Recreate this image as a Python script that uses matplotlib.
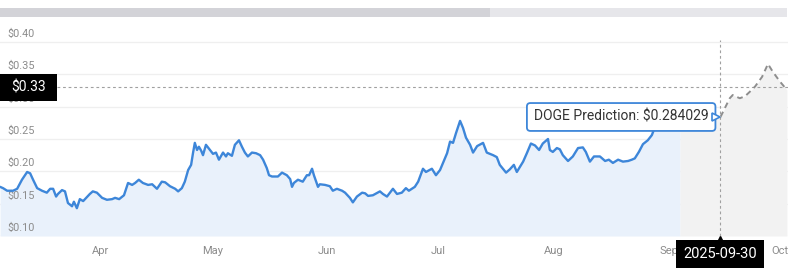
import datetime as dt
import matplotlib
matplotlib.use("Agg")
import matplotlib.pyplot as plt
from matplotlib.patches import Rectangle
from matplotlib.transforms import blended_transform_factory, offset_copy

plt.rcParams['font.family'] = ['Roboto', 'DejaVu Sans']

# ---------------- data ----------------
start_date = dt.date(2025, 3, 20)          # day 0 of the series

hist_day = [
    -0.2, 0.6, 1.7, 3.3, 4.4, 5.7, 7.1, 7.9, 8.7, 9.8,
    11.1, 12.4, 13.3, 14.1, 14.9, 15.4, 16.5, 17.3, 18.1, 19.2,
    19.7, 20.5, 21.3, 22.2, 23.0, 24.0, 24.8, 25.9, 27.3, 28.6,
    30.0, 30.8, 31.9, 33.2, 34.3, 35.4, 36.2, 37.2, 38.3, 39.7,
    40.8, 42.1, 43.4, 44.3, 45.6, 47.0, 47.8, 48.8, 49.6, 50.5,
    51.3, 51.8, 52.3, 52.9, 53.4, 54.0, 54.5, 55.3, 56.4, 57.2,
    58.0, 58.8, 59.9, 60.7, 61.2, 62.3, 63.1, 64.2, 65.0, 65.8,
    66.6, 67.7, 68.8, 69.9, 70.7, 71.7, 72.3, 73.1, 74.7, 75.8,
    77.1, 78.0, 78.5, 79.0, 80.1, 81.4, 82.5, 83.1, 83.9, 84.4,
    85.5, 86.0, 87.4, 88.7, 89.5, 90.6, 92.0, 92.8, 94.1, 94.9,
    96.0, 97.4, 98.2, 99.0, 100.3, 102.2, 103.0, 104.1, 105.7, 106.8,
    108.1, 109.2, 110.0, 111.6, 112.5, 113.8, 114.6, 116.2, 117.3, 118.4,
    119.2, 120.3, 121.1, 121.9, 122.7, 123.8, 124.6, 125.4, 126.5, 127.3,
    128.4, 130.0, 131.0, 132.7, 133.7, 134.5, 136.2, 137.2, 138.3, 139.1,
    140.8, 141.8, 142.9, 144.0, 145.1, 146.1, 147.5, 148.0, 148.8, 149.9,
    150.7, 151.5, 152.9, 154.2, 155.6, 156.9, 157.7, 158.8, 159.9, 161.5,
    162.9, 163.9, 165.0, 166.4, 167.7, 169.1, 170.1, 170.9, 172.0, 173.1,
    174.4, 175.5, 176.1, 177.7, 179.8, 181.7, 183.1,
]
hist_price = [
    0.176, 0.174, 0.170, 0.170, 0.173, 0.187, 0.199, 0.197, 0.187, 0.174,
    0.170, 0.167, 0.173, 0.173, 0.161, 0.165, 0.171, 0.169, 0.151, 0.146,
    0.153, 0.143, 0.157, 0.154, 0.159, 0.165, 0.169, 0.167, 0.159, 0.156,
    0.157, 0.159, 0.157, 0.163, 0.182, 0.179, 0.182, 0.187, 0.182, 0.179,
    0.180, 0.173, 0.184, 0.183, 0.177, 0.173, 0.169, 0.174, 0.184, 0.202,
    0.210, 0.228, 0.244, 0.233, 0.238, 0.232, 0.225, 0.241, 0.233, 0.227,
    0.229, 0.218, 0.229, 0.223, 0.228, 0.224, 0.241, 0.248, 0.238, 0.229,
    0.223, 0.229, 0.228, 0.225, 0.218, 0.205, 0.194, 0.192, 0.192, 0.198,
    0.194, 0.188, 0.176, 0.182, 0.187, 0.184, 0.194, 0.194, 0.204, 0.194,
    0.176, 0.180, 0.179, 0.177, 0.170, 0.173, 0.170, 0.167, 0.159, 0.152,
    0.161, 0.167, 0.166, 0.162, 0.163, 0.169, 0.165, 0.161, 0.173, 0.165,
    0.167, 0.174, 0.170, 0.176, 0.184, 0.204, 0.199, 0.204, 0.194, 0.202,
    0.213, 0.228, 0.246, 0.244, 0.259, 0.278, 0.267, 0.252, 0.241, 0.229,
    0.239, 0.244, 0.229, 0.225, 0.222, 0.210, 0.198, 0.203, 0.210, 0.199,
    0.215, 0.228, 0.243, 0.240, 0.233, 0.243, 0.250, 0.233, 0.230, 0.236,
    0.234, 0.225, 0.216, 0.223, 0.236, 0.237, 0.230, 0.215, 0.223, 0.223,
    0.216, 0.218, 0.213, 0.218, 0.215, 0.216, 0.218, 0.220, 0.230, 0.242,
    0.248, 0.256, 0.265, 0.272, 0.277, 0.280, 0.282,
]

pred_day = [183.1, 188.5, 194.0, 195.2, 196.5, 197.3, 199.2, 200.6,
            201.9, 203.3, 205.2, 206.8, 208.1, 210.0, 211.9]
pred_price = [0.282, 0.283, 0.284029, 0.298, 0.313, 0.318, 0.313, 0.316,
              0.323, 0.331, 0.346, 0.366, 0.354, 0.339, 0.326]

pred_date = dt.date(2025, 9, 30)
pred_value = 0.284029
pred_label = "DOGE Prediction: \\$0.284029"
cursor_price = 0.33
cursor_label = "\\$0.33"

y_ticks = [0.10, 0.15, 0.20, 0.25, 0.30, 0.35, 0.40]
month_labels = ["Apr", "May", "Jun", "Jul", "Aug", "Sep", "Oct"]
month_label_dates = [dt.date(2025, m, 16) for m in range(4, 11)]

# ---------------- styling ----------------
W, H = 797, 271
blue = "#3d86d9"
grey_txt = "#8c8c8c"

fig = plt.figure(figsize=(W / 100, H / 100), dpi=100)
fig.patch.set_facecolor("white")

# top navigator bar
fig.patches.append(Rectangle((0, 1 - 17 / H), 490 / W, 9 / H,
                             transform=fig.transFigure, fc="#d3d3d8", ec="none"))
fig.patches.append(Rectangle((490 / W, 1 - 17 / H), 297 / W, 9 / H,
                             transform=fig.transFigure, fc="#e6e6ea", ec="none"))

ax_w_px, ax_h_px = 788, 216
ax = fig.add_axes([0, 35 / H, ax_w_px / W, ax_h_px / H])
for s in ax.spines.values():
    s.set_visible(False)
ax.set_facecolor("none")

ax.set_xlim(-0.22, 212.2)
ax.set_ylim(0.10, 0.434)
ax.set_yticks([])

month_pos = [(d - start_date).days for d in month_label_dates]
ax.set_xticks(month_pos, month_labels)
ax.tick_params(axis="x", length=0, pad=7, labelsize=8, labelcolor=grey_txt)

blend_ay = blended_transform_factory(ax.transAxes, ax.transData)   # x axes, y data
blend_xa = blended_transform_factory(ax.transData, ax.transAxes)   # x data, y axes

# gridlines and y labels
for yv in y_ticks:
    ax.axhline(yv, color="#efefef", lw=0.9, zorder=0)
    ax.annotate("\\$%.2f" % yv, xy=(0, yv), xycoords=blend_ay,
                xytext=(7, 5), textcoords="offset pixels",
                fontsize=7.8, color=grey_txt, ha="left", va="baseline", zorder=2)

# history
ax.fill_between(hist_day, hist_price, 0.10, color="#e9f1fb", lw=0, zorder=1)
ax.plot(hist_day, hist_price, color=blue, lw=1.7, zorder=4,
        solid_joinstyle="round", solid_capstyle="round")

# prediction
ax.fill_between(pred_day, pred_price, 0.10, color="#f2f2f2", lw=0, zorder=1)
ax.plot(pred_day, pred_price, color="#8e8e8e", lw=1.4, zorder=4,
        dashes=(3, 2.2))

# crosshair lines
pred_x = (pred_date - start_date).days
ax.axhline(cursor_price, xmin=57 / ax_w_px, color="#a0a0a0", lw=0.8,
           dashes=(2.5, 2.5), zorder=3)
ax.vlines(pred_x, 0.10, 0.403, color="#a0a0a0", lw=0.8,
          linestyles=(0, (2.5, 2.5)), zorder=3)

# $0.33 black label
box_h = 27 / ax_h_px * (0.434 - 0.10)
ax.add_patch(Rectangle((0, cursor_price - box_h / 2), 57 / ax_w_px, box_h,
                       transform=blend_ay, fc="black", ec="none", zorder=10,
                       clip_on=False))
ax.text(28.5 / ax_w_px, cursor_price, cursor_label, transform=blend_ay,
        color="white", fontsize=10, ha="center", va="center", zorder=11)

# date black label
px_per_day = ax_w_px / (212.2 + 0.22)
half_w = 44 / px_per_day
ax.add_patch(Rectangle((pred_x - half_w, -32 / ax_h_px), 2 * half_w, 28 / ax_h_px,
                       transform=blend_xa, fc="black", ec="none", zorder=10,
                       clip_on=False))
ax.text(pred_x, -18 / ax_h_px, pred_date.isoformat(), transform=blend_xa,
        color="white", fontsize=10.5, ha="center", va="center", zorder=11,
        clip_on=False)
ax.plot([pred_x], [-2.5 / ax_h_px], marker="^", ms=5, color="black",
        transform=blend_xa, clip_on=False, zorder=11)

# tooltip
ax.annotate(pred_label, xy=(pred_x, pred_value), xycoords="data",
            xytext=(-12, 0), textcoords="offset pixels",
            ha="right", va="center", fontsize=10, color="#333333", zorder=12,
            bbox=dict(boxstyle="round,pad=0.5,rounding_size=0.25",
                      fc="white", ec=blue, lw=1.3))
ax.plot([pred_x], [pred_value], marker=">", ms=6, mfc="white", mec=blue, mew=1.2,
        transform=offset_copy(ax.transData, fig=fig, x=-4, y=0, units="dots"),
        zorder=13, clip_on=False)

fig.savefig("out.png", dpi=100)
